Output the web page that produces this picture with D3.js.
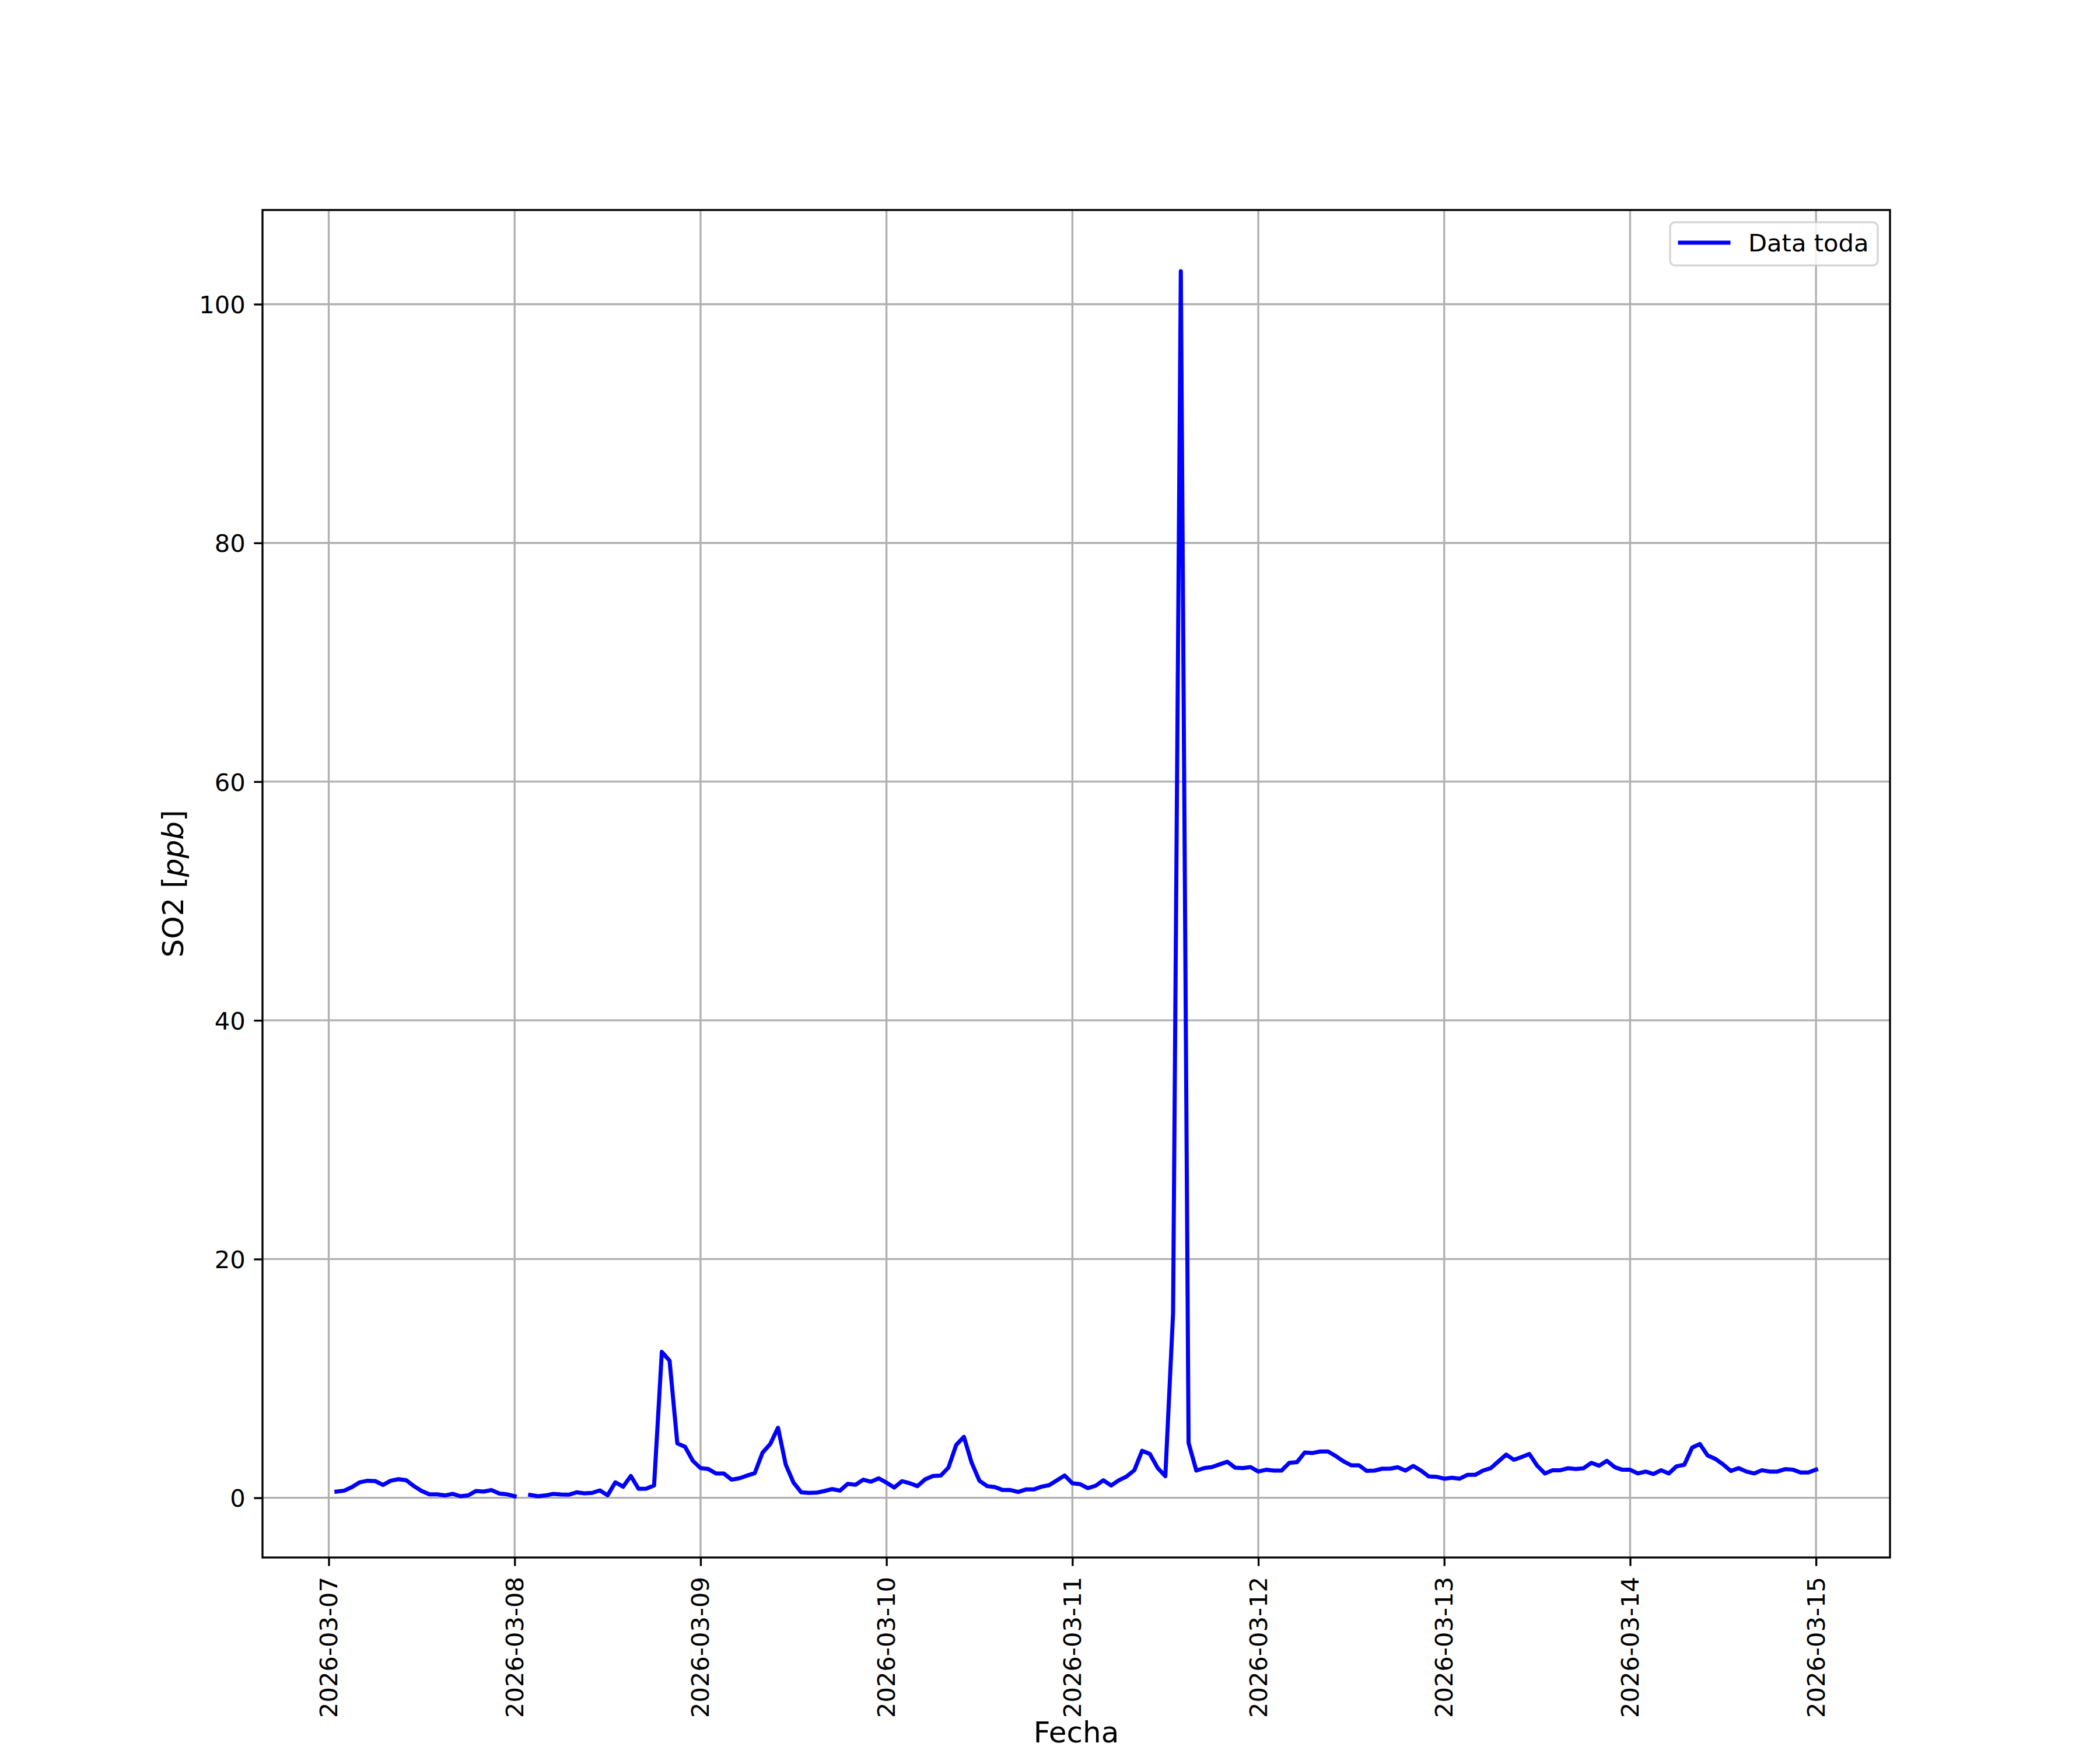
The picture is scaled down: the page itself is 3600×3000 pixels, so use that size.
<!DOCTYPE html>
<html>
<head>
<meta charset="utf-8">
<script src="https://cdn.jsdelivr.net/npm/d3@7"></script>
<style>
  body { margin: 0; background: #ffffff; }
  svg { display: block; }
</style>
</head>
<body>
<div id="chart"></div>
<script>
// ---------------- DATA ----------------
// Hourly SO2 [ppb]; first value at 2026-03-07 01:00, last at 2026-03-15 00:00
const startTime = "2026-03-07T01:00:00Z";
const day07 = [0.52, 0.60, 0.90, 1.30, 1.43, 1.40, 1.08, 1.43, 1.56, 1.47, 0.98, 0.57,
               0.29, 0.29, 0.20, 0.33, 0.13, 0.20, 0.57, 0.52, 0.65, 0.36, 0.29, 0.13];
const day08 = [null, 0.24, 0.13, 0.20, 0.33, 0.28, 0.26, 0.46, 0.37, 0.41, 0.62, 0.21,
               1.30, 0.93, 1.83, 0.75, 0.77, 1.03, 12.22, 11.49, 4.56, 4.27, 3.10, 2.49];
const day09 = [2.41, 2.04, 2.04, 1.52, 1.63, 1.86, 2.07, 3.78, 4.51, 5.87, 2.77, 1.27,
               0.46, 0.41, 0.43, 0.57, 0.73, 0.60, 1.17, 1.09, 1.52, 1.35, 1.63, 1.27];
const day10 = [0.86, 1.39, 1.22, 0.98, 1.55, 1.83, 1.86, 2.53, 4.43, 5.10, 2.93, 1.43,
               0.98, 0.90, 0.65, 0.65, 0.49, 0.70, 0.70, 0.93, 1.06, 1.46, 1.87, 1.22];
const day11 = [1.14, 0.81, 1.01, 1.47, 1.03, 1.47, 1.79, 2.31, 3.94, 3.67, 2.51, 1.81,
               15.48, 102.76, 4.60, 2.28, 2.49, 2.57, 2.80, 3.02, 2.53, 2.49, 2.57, 2.20];
const day12 = [2.35, 2.28, 2.28, 2.93, 2.99, 3.80, 3.75, 3.88, 3.88, 3.50, 3.06, 2.72,
               2.72, 2.25, 2.28, 2.44, 2.44, 2.56, 2.28, 2.67, 2.28, 1.79, 1.76, 1.60];
const day13 = [1.68, 1.60, 1.92, 1.92, 2.28, 2.48, 3.05, 3.62, 3.18, 3.42, 3.67, 2.69,
               2.04, 2.31, 2.31, 2.48, 2.41, 2.48, 2.93, 2.69, 3.10, 2.57, 2.35, 2.35];
const day14 = [2.04, 2.20, 1.99, 2.31, 2.04, 2.64, 2.77, 4.20, 4.51, 3.55, 3.26, 2.80,
               2.25, 2.49, 2.20, 2.04, 2.31, 2.20, 2.20, 2.40, 2.36, 2.12, 2.12, 2.36];

const xTickLabels = ["2026-03-07", "2026-03-08", "2026-03-09", "2026-03-10", "2026-03-11",
                     "2026-03-12", "2026-03-13", "2026-03-14", "2026-03-15"];
const yTicks = [0, 20, 40, 60, 80, 100];
const seriesName = "Data toda";
const xLabel = "Fecha";

// ---------------- BUILD ----------------
const values = [].concat(day07, day08, day09, day10, day11, day12, day13, day14);
const t0 = new Date(startTime);
const data = values.map((v, i) => ({ t: new Date(t0.getTime() + i * 3600e3), v: v }));

const W = 3600, H = 3000;
const L = 450, R = 3240, T = 360, B = 2670;
const FONT = "'DejaVu Sans', Verdana, sans-serif";
const tickFs = 41.67, labelFs = 50;
const lw08 = 3.33;
const lineW = 7;

const tExt = d3.extent(data, d => d.t);
const tSpan = tExt[1] - tExt[0];
const x = d3.scaleUtc()
  .domain([new Date(+tExt[0] - 0.05 * tSpan), new Date(+tExt[1] + 0.05 * tSpan)])
  .range([L, R]);
const vExt = d3.extent(values.filter(v => v != null));
const vSpan = vExt[1] - vExt[0];
const y = d3.scaleLinear()
  .domain([vExt[0] - 0.05 * vSpan, vExt[1] + 0.05 * vSpan])
  .range([B, T]);

const parseDay = d3.utcParse("%Y-%m-%d");
const xTicks = xTickLabels.map(s => parseDay(s));

const svg = d3.select("#chart").append("svg")
  .attr("width", W).attr("height", H)
  .attr("viewBox", `0 0 ${W} ${H}`);
svg.append("rect").attr("width", W).attr("height", H).attr("fill", "#ffffff");

// grid
const grid = svg.append("g").attr("class", "grid");
grid.selectAll("line.vx").data(xTicks).enter().append("line")
  .attr("x1", d => x(d)).attr("x2", d => x(d))
  .attr("y1", T).attr("y2", B)
  .attr("stroke", "#b0b0b0").attr("stroke-width", lw08);
grid.selectAll("line.hy").data(yTicks).enter().append("line")
  .attr("x1", L).attr("x2", R)
  .attr("y1", d => y(d)).attr("y2", d => y(d))
  .attr("stroke", "#b0b0b0").attr("stroke-width", lw08);

// clip
svg.append("clipPath").attr("id", "clip")
  .append("rect").attr("x", L).attr("y", T).attr("width", R - L).attr("height", B - T);

// line
const line = d3.line()
  .defined(d => d.v != null)
  .x(d => x(d.t))
  .y(d => y(d.v));
svg.append("path")
  .datum(data)
  .attr("clip-path", "url(#clip)")
  .attr("d", line)
  .attr("fill", "none")
  .attr("stroke", "#0000ff")
  .attr("stroke-width", lineW)
  .attr("stroke-linecap", "square")
  .attr("stroke-linejoin", "round");

// x axis
const xAxis = d3.axisBottom(x)
  .tickValues(xTicks)
  .tickFormat(d3.utcFormat("%Y-%m-%d"))
  .tickSize(14.6)
  .tickSizeOuter(0);
const gx = svg.append("g").attr("transform", `translate(0,${B})`).call(xAxis);
gx.select(".domain").remove();
gx.selectAll(".tick line").attr("stroke", "#000").attr("stroke-width", lw08);
gx.selectAll(".tick text")
  .attr("font-family", FONT).attr("font-size", tickFs).attr("fill", "#000")
  .attr("text-anchor", "end")
  .attr("dy", null)
  .attr("x", 0).attr("y", 0)
  .attr("transform", "translate(0,33) rotate(-90) translate(0,14)");

// y axis
const yAxis = d3.axisLeft(y)
  .tickValues(yTicks)
  .tickFormat(d3.format("d"))
  .tickSize(14.6)
  .tickSizeOuter(0)
  .tickPadding(14.6);
const gy = svg.append("g").attr("transform", `translate(${L},0)`).call(yAxis);
gy.select(".domain").remove();
gy.selectAll(".tick line").attr("stroke", "#000").attr("stroke-width", lw08);
gy.selectAll(".tick text")
  .attr("font-family", FONT).attr("font-size", tickFs).attr("fill", "#000")
  .attr("dy", "0.3645em");

// spines
svg.append("rect")
  .attr("x", L).attr("y", T).attr("width", R - L).attr("height", B - T)
  .attr("fill", "none").attr("stroke", "#000").attr("stroke-width", lw08);

// axis labels
svg.append("text")
  .attr("x", (L + R) / 2).attr("y", 2987)
  .attr("text-anchor", "middle")
  .attr("font-family", FONT).attr("font-size", labelFs).attr("fill", "#000")
  .text(xLabel);

const yl = svg.append("text")
  .attr("transform", `translate(314,${(T + B) / 2}) rotate(-90)`)
  .attr("text-anchor", "middle")
  .attr("font-family", FONT).attr("font-size", labelFs).attr("fill", "#000");
yl.append("tspan").text("SO2 [");
yl.append("tspan").attr("font-style", "italic").text("ppb");
yl.append("tspan").text("]");

// legend
const lg = svg.append("g");
lg.append("rect")
  .attr("x", 2863).attr("y", 381).attr("width", 356).attr("height", 74)
  .attr("rx", 8.3).attr("ry", 8.3)
  .attr("fill", "#ffffff").attr("fill-opacity", 0.8)
  .attr("stroke", "#cccccc").attr("stroke-opacity", 0.8).attr("stroke-width", 3.4);
lg.append("line")
  .attr("x1", 2880).attr("x2", 2963).attr("y1", 416).attr("y2", 416)
  .attr("stroke", "#0000ff").attr("stroke-width", lineW).attr("stroke-linecap", "square");
lg.append("text")
  .attr("x", 2997).attr("y", 431)
  .attr("font-family", FONT).attr("font-size", tickFs).attr("fill", "#000")
  .text(seriesName);
</script>
</body>
</html>
